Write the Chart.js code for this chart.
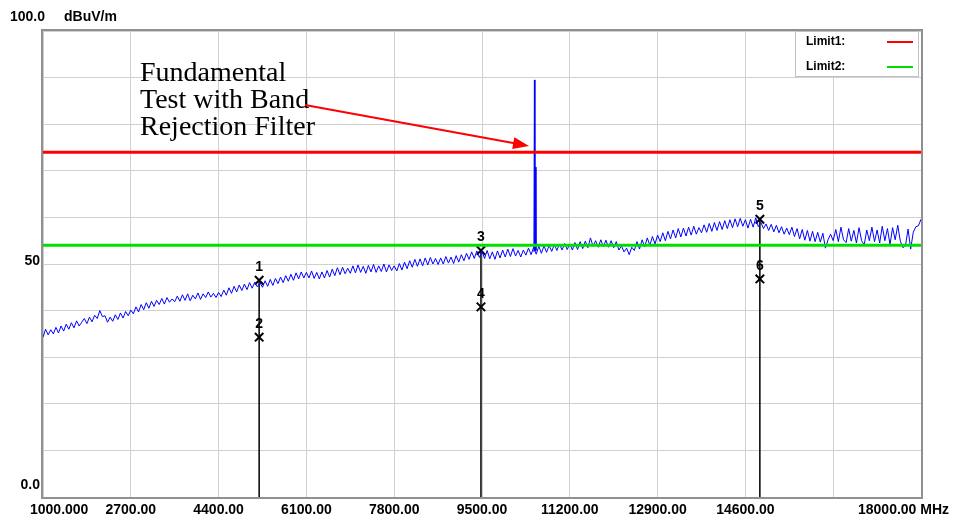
<!DOCTYPE html>
<html>
<head>
<meta charset="utf-8">
<script src="https://cdn.jsdelivr.net/npm/chart.js@4.4.0/dist/chart.umd.min.js"></script>
<style>
  html, body { margin: 0; padding: 0; background: #fff; }
  #wrap { width: 957px; height: 522px; }
</style>
</head>
<body>
<div id="wrap"><canvas id="emc"></canvas></div>
<script>
// sweep: 1000 .. 18000 MHz, one reading every 50 MHz
const sweepStart = 1000;
const sweepStep = 50;
const traceLevel = [
  34.3, 36.0, 34.8, 35.9, 35.0, 36.4, 35.2, 36.7, 35.6, 37.1, 36.0, 37.4, 36.3, 37.8, 36.7, 37.5, 38.3,
  37.2, 38.6, 37.6, 39.0, 38.3, 40.0, 38.7, 38.9, 37.5, 38.6, 37.7, 39.1, 38.1, 39.5, 38.4, 39.8, 38.9,
  40.1, 39.3, 40.8, 39.7, 41.3, 40.2, 41.7, 40.5, 42.0, 40.9, 42.2, 41.3, 42.6, 41.4, 42.8, 41.8, 42.5,
  41.9, 43.1, 42.0, 43.4, 42.2, 43.6, 42.1, 43.3, 42.5, 43.8, 42.4, 43.6, 42.8, 44.0, 42.9, 43.7, 42.8,
  43.9, 43.0, 44.4, 43.3, 44.9, 43.7, 45.2, 44.0, 45.5, 44.3, 45.7, 44.5, 46.0, 44.8, 46.1, 45.1, 46.0,
  45.0, 46.4, 45.2, 46.7, 45.4, 46.9, 45.8, 47.2, 46.0, 47.5, 46.3, 47.8, 46.5, 48.1, 46.8, 48.3, 47.0,
  48.2, 47.0, 48.5, 46.9, 48.2, 46.8, 48.3, 47.0, 48.6, 47.2, 48.9, 47.5, 49.2, 47.7, 49.3, 47.9, 49.1,
  48.0, 49.6, 48.1, 49.8, 48.2, 49.5, 48.0, 49.7, 48.3, 49.9, 48.2, 49.6, 48.4, 50.0, 48.3, 49.8, 48.6,
  49.6, 48.5, 50.1, 48.7, 50.4, 49.0, 50.7, 49.3, 51.0, 49.5, 51.1, 49.6, 51.3, 49.8, 51.4, 50.0, 51.2,
  49.9, 51.3, 50.0, 51.6, 50.2, 51.5, 50.1, 51.8, 50.4, 52.0, 50.7, 52.3, 51.0, 52.6, 51.2, 52.8, 51.4,
  52.7, 51.2, 52.9, 51.1, 52.6, 51.0, 52.8, 51.3, 53.0, 51.5, 53.2, 51.6, 53.3, 51.7, 52.9, 51.5, 53.0,
  51.9, 53.4, 52.0, 53.6, 52.1, 53.8, 52.3, 53.9, 52.5, 54.0, 52.7, 54.2, 52.9, 54.3, 53.0, 54.4, 53.1,
  54.3, 53.0, 54.6, 53.1, 54.8, 53.3, 54.9, 53.5, 55.6, 53.8, 55.0, 53.6, 55.2, 53.7, 55.1, 53.6, 55.0,
  53.5, 54.8, 53.0, 53.9, 52.6, 53.4, 52.0, 53.6, 52.9, 54.8, 53.2, 55.2, 53.7, 55.6, 54.0, 55.9, 54.3,
  56.2, 54.8, 56.7, 55.0, 57.0, 55.4, 57.3, 55.6, 57.6, 55.8, 57.7, 56.0, 57.9, 56.2, 58.1, 56.4, 57.8,
  56.7, 58.4, 56.8, 58.7, 57.0, 58.9, 57.2, 59.1, 57.4, 59.3, 57.6, 59.5, 57.8, 59.7, 58.0, 59.8, 58.1,
  59.5, 57.7, 59.6, 57.9, 59.9, 58.0, 58.9, 57.6, 58.6, 57.2, 58.5, 56.9, 58.3, 56.7, 58.0, 56.4, 57.7,
  56.3, 57.9, 55.9, 57.6, 55.4, 57.4, 55.1, 57.2, 54.9, 57.0, 54.8, 56.8, 54.7, 56.6, 53.4, 55.2, 56.4,
  55.0, 57.4, 54.8, 57.9, 55.2, 54.6, 57.6, 54.9, 57.2, 54.5, 57.8, 55.0, 54.1, 57.3, 55.0, 57.9, 54.8,
  57.3, 54.5, 58.1, 55.0, 57.6, 54.2, 57.8, 55.2, 58.3, 54.9, 53.5, 54.0, 57.5, 53.2, 56.8, 58.0, 58.2,
  59.6
];

// fundamental (through the band rejection filter)
const spikeFreq = [10505, 10515, 10525, 10535, 10545];
const spikeLevel = [52.6, 89.5, 52.8, 70.8, 52.9];

const limit1 = 74;
const limit2 = 54;

const markerNo = ['1', '2', '3', '4', '5', '6'];
const markerFreq = [5185, 5185, 9480, 9480, 14880, 14880];
const markerLevel = [46.5, 34.3, 52.9, 40.8, 59.6, 46.8];

const xTicks = [1000, 2700, 4400, 6100, 7800, 9500, 11200, 12900, 14600, 16300, 18000];
const xTickLabels = ['1000.000', '2700.00', '4400.00', '6100.00', '7800.00', '9500.00',
  '11200.00', '12900.00', '14600.00', '', '18000.00 MHz'];
const yTicks = [0, 10, 20, 30, 40, 50, 60, 70, 80, 90, 100];
const yTickValues = [100, 50, 0];
const yTickLabels = ['100.0', '50', '0.0'];
const yUnit = 'dBuV/m';

const noteLines = ['Fundamental', 'Test with Band', 'Rejection Filter'];
const legendNames = ['Limit1:', 'Limit2:'];

const tracePoints = traceLevel.map((v, i) => ({ x: sweepStart + i * sweepStep, y: v }));
const spikePoints = spikeFreq.map((f, i) => ({ x: f, y: spikeLevel[i] }));

const markerLines = [0, 2, 4].map(i => ({
  data: [{ x: markerFreq[i], y: markerLevel[i] }, { x: markerFreq[i], y: 0 }],
  borderColor: '#000', borderWidth: 1.5, pointRadius: 0, showLine: true
}));

// frame, legend box, texts and arrow are drawn by hand
const decor = {
  id: 'decor',
  beforeDatasetsDraw(chart) {
    const { ctx, chartArea: a } = chart;
    ctx.save();
    ctx.strokeStyle = '#909090';
    ctx.lineWidth = 2;
    ctx.strokeRect(a.left - 1, a.top - 1, a.right - a.left + 2, a.bottom - a.top + 2);
    ctx.restore();
  },
  afterDraw(chart) {
    const { ctx, chartArea: a, scales: { x, y } } = chart;
    ctx.save();
    ctx.fillStyle = '#000';
    ctx.font = 'bold 14px "Liberation Sans", Arial, sans-serif';
    ctx.textBaseline = 'middle';

    // x tick labels
    xTicks.forEach((v, i) => {
      const t = xTickLabels[i];
      if (!t) return;
      const px = x.getPixelForValue(v);
      if (i === 0) { ctx.textAlign = 'left'; ctx.fillText(t, 30, 510); }
      else if (i === xTicks.length - 1) { ctx.textAlign = 'left'; ctx.fillText(t, px - 63, 510); }
      else { ctx.textAlign = 'center'; ctx.fillText(t, px, 510); }
    });

    // y labels
    ctx.textAlign = 'left';
    ctx.fillText(yTickLabels[0], 10, 17);
    ctx.fillText(yUnit, 64, 17);
    ctx.textAlign = 'right';
    ctx.fillText(yTickLabels[1], 40, y.getPixelForValue(yTickValues[1]) - 3);
    ctx.fillText(yTickLabels[2], 40, y.getPixelForValue(yTickValues[2]) - 12);

    // marker numbers
    ctx.font = 'bold 14px "Liberation Sans", Arial, sans-serif';
    ctx.textAlign = 'center';
    markerNo.forEach((n, i) => {
      ctx.fillText(n, x.getPixelForValue(markerFreq[i]), y.getPixelForValue(markerLevel[i]) - 13);
    });

    // legend box
    const bx = 795, by = a.top, bw = 123, bh = 45;
    ctx.fillStyle = '#fff';
    ctx.fillRect(bx, by, bw, bh);
    ctx.strokeStyle = '#c0c0c0';
    ctx.lineWidth = 1;
    ctx.strokeRect(bx + 0.5, by + 0.5, bw, bh);
    ctx.fillStyle = '#000';
    ctx.font = 'bold 12px "Liberation Sans", Arial, sans-serif';
    ctx.textAlign = 'left';
    const legendColors = ['#ff0000', '#00e000'];
    legendNames.forEach((n, i) => {
      const ly = 42 + i * 25;
      ctx.fillText(n, 806, ly);
      ctx.strokeStyle = legendColors[i];
      ctx.lineWidth = 2;
      ctx.beginPath(); ctx.moveTo(887, ly); ctx.lineTo(913, ly); ctx.stroke();
    });

    // annotation
    ctx.font = '28px "Liberation Serif", "Times New Roman", serif';
    ctx.textBaseline = 'alphabetic';
    ctx.fillStyle = '#000';
    noteLines.forEach((t, i) => ctx.fillText(t, 140, 81 + i * 27));

    // arrow
    const x0 = 305, y0 = 105, x1 = 529, y1 = 146;
    const ang = Math.atan2(y1 - y0, x1 - x0);
    ctx.strokeStyle = '#ff0000';
    ctx.fillStyle = '#ff0000';
    ctx.lineWidth = 2;
    ctx.beginPath(); ctx.moveTo(x0, y0); ctx.lineTo(x1 - 12 * Math.cos(ang), y1 - 12 * Math.sin(ang)); ctx.stroke();
    ctx.beginPath();
    ctx.moveTo(x1, y1);
    ctx.lineTo(x1 - 16 * Math.cos(ang) + 6 * Math.sin(ang), y1 - 16 * Math.sin(ang) - 6 * Math.cos(ang));
    ctx.lineTo(x1 - 16 * Math.cos(ang) - 6 * Math.sin(ang), y1 - 16 * Math.sin(ang) + 6 * Math.cos(ang));
    ctx.closePath(); ctx.fill();
    ctx.restore();
  }
};

new Chart(document.getElementById('emc'), {
  type: 'scatter',
  data: {
    datasets: [
      { data: [{ x: 1000, y: limit1 }, { x: 18000, y: limit1 }], borderColor: '#ff0000', borderWidth: 3, pointRadius: 0, showLine: true },
      { data: [{ x: 1000, y: limit2 }, { x: 18000, y: limit2 }], borderColor: '#00e000', borderWidth: 3, pointRadius: 0, showLine: true },
      { data: tracePoints, borderColor: '#0000ff', borderWidth: 1, pointRadius: 0, showLine: true },
      { data: spikePoints, borderColor: '#0000ff', borderWidth: 1, pointRadius: 0, showLine: true },
      ...markerLines,
      {
        data: markerFreq.map((f, i) => ({ x: f, y: markerLevel[i] })),
        pointStyle: 'crossRot', pointRadius: 6, borderColor: '#000', borderWidth: 2, showLine: false
      }
    ]
  },
  options: {
    responsive: true,
    maintainAspectRatio: false,
    animation: false,
    layout: { padding: { left: 43, top: 31, right: 36, bottom: 25 } },
    plugins: { legend: { display: false }, tooltip: { enabled: false } },
    scales: {
      x: {
        type: 'linear', min: 1000, max: 18000,
        afterBuildTicks: s => { s.ticks = xTicks.map(v => ({ value: v })); },
        ticks: { display: false },
        grid: { color: '#d0d0d0', drawTicks: false },
        border: { display: false }
      },
      y: {
        min: 0, max: 100,
        afterBuildTicks: s => { s.ticks = yTicks.map(v => ({ value: v })); },
        ticks: { display: false },
        grid: { color: '#d0d0d0', drawTicks: false },
        border: { display: false }
      }
    }
  },
  plugins: [decor]
});
</script>
</body>
</html>
